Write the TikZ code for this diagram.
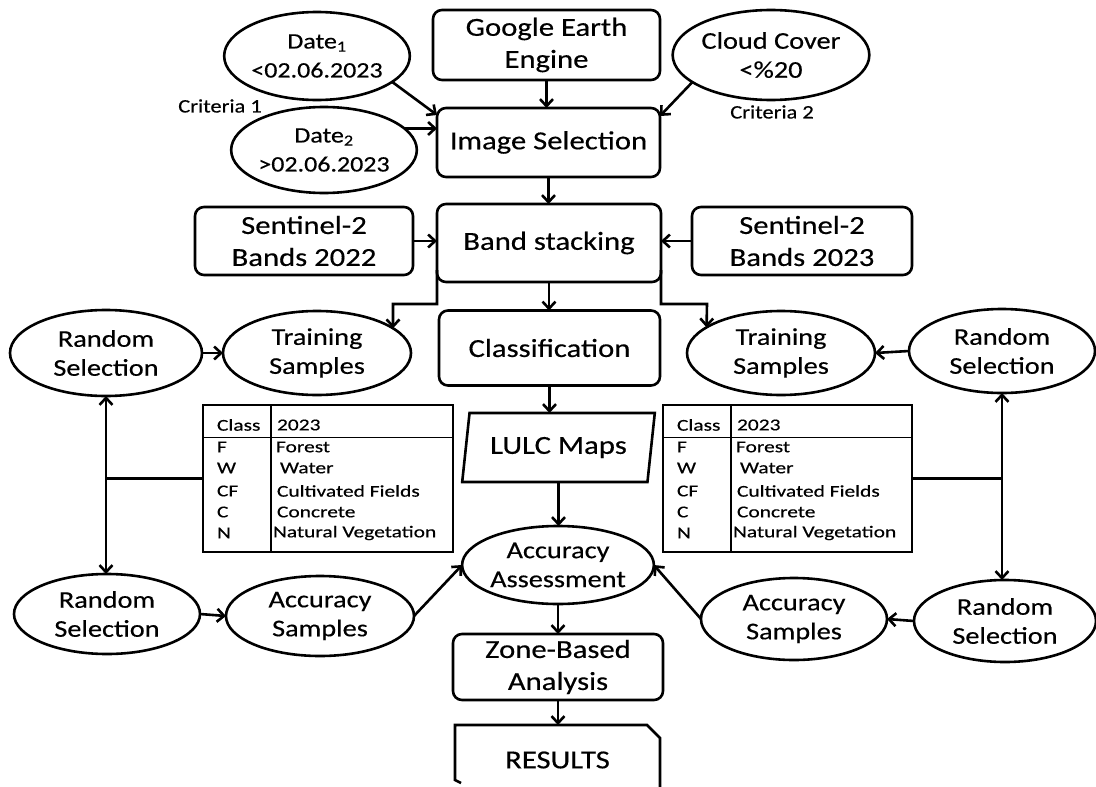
\documentclass[tikz,border=0pt]{standalone}
\usepackage{fontspec}
\setmainfont{Carlito}[FakeStretch=1.18,FakeBold=0.4]
\newfontfamily\tabfont{Carlito}[FakeStretch=1.3,FakeBold=0.4]
\usetikzlibrary{shapes.geometric,arrows.meta}

\newcommand\classtable[3]{%
 \begin{scope}[shift={#2}]
  \node[draw, line width=2.6pt, minimum width=#3, minimum height=147, anchor=north west] (#1) at (0,0) {};
  \draw[line width=1.6pt] (68,0) -- (68,147);
  \draw[line width=1pt] (0,32) -- (#3,32);
  \node[tab] (#1h1) at (14,20) {Class};
  \node[tab] (#1h2) at (74,20) {2023};
  \node[tab] (#1a1) at (14,42) {F};
  \node[tab] (#1a2) at (73,42) {Forest};
  \node[tab] (#1b1) at (14,63) {W};
  \node[tab] (#1b2) at (77,63) {Water};
  \node[tab] (#1c1) at (14,86) {CF};
  \node[tab] (#1c2) at (74,86) {Cultivated Fields};
  \node[tab] (#1d1) at (14,107) {C};
  \node[tab] (#1d2) at (74,107) {Concrete};
  \node[tab] (#1e1) at (14,128) {N};
  \node[tab] (#1e2) at (70,128) {Natural Vegetation};
 \end{scope}}

\begin{document}
\begin{tikzpicture}[x=1pt,y=-1pt,
 line width=2.6pt,
 every node/.style={inner sep=0pt, outer sep=0pt},
 box/.style={draw, rounded corners=9pt, align=center, font=\fontsize{26}{32}\selectfont},
 oval/.style={draw, ellipse, align=center, font=\fontsize{24}{29}\selectfont},
 dateoval/.style={oval, font=\fontsize{22}{29}\selectfont},
 arr/.style={-{Straight Barb[length=7pt,width=13pt]}},
 darr/.style={{Straight Barb[length=7pt,width=13pt]}-{Straight Barb[length=7pt,width=13pt]}},
 crit/.style={font=\fontsize{19}{22}\selectfont},
 tab/.style={font=\tabfont\fontsize{16.5}{18}\selectfont, anchor=west},
]
\useasboundingbox (0,0) rectangle (1096,787);
\fill[white] (0,0) rectangle (1096,787);

% top row
\node[box, minimum width=227, minimum height=70] (GEE) at (546.5,45) {Google Earth\\Engine};
\node[box, minimum width=223, minimum height=69] (ImgSel) at (548.5,142.5) {Image Selection};
\node[dateoval, minimum width=155, minimum height=88] (Date1) at (317,56) {Date\textsubscript{1}\\<02.06.2023};
\node[dateoval, minimum width=158, minimum height=86] (Date2) at (324,150) {Date\textsubscript{2}\\>02.06.2023};
\node[oval, minimum width=164, minimum height=90] (Cloud) at (771,55) {Cloud Cover\\<\%20};
\node[crit] (Crit1) at (220,106) {Criteria 1};
\node[crit] (Crit2) at (772,112) {Criteria 2};

% band stacking row
\node[box, minimum width=224, minimum height=78] (Band) at (549,243) {Band stacking};
\node[box, minimum width=218, minimum height=68] (S22) at (304,241) {Sentinel-2\\Bands 2022};
\node[box, minimum width=220, minimum height=68] (S23) at (802,241) {Sentinel-2\\Bands 2023};

% classification row
\node[box, minimum width=221, minimum height=75] (Class) at (549.5,348) {Classification};
\node[oval, minimum width=188, minimum height=84] (TrainL) at (317,353) {Training\\Samples};
\node[oval, minimum width=192, minimum height=86] (RSL1) at (106,353) {Random\\Selection};
\node[oval, minimum width=188, minimum height=84] (TrainR) at (781,353) {Training\\Samples};
\node[oval, minimum width=186, minimum height=84] (RSR1) at (1002,351) {Random\\Selection};

% LULC maps
\node[draw, trapezium, trapezium left angle=75, trapezium right angle=105, trapezium stretches=true,
      minimum width=193, minimum height=69, font=\fontsize{26}{32}\selectfont] (LULC) at (558.5,447.5) {LULC Maps};

% tables
\classtable{tabL}{(203,405)}{250}
\classtable{tabR}{(663,405)}{249}

% accuracy row
\node[oval, minimum width=190, minimum height=78] (AA) at (558,565) {Accuracy\\Assessment};
\node[oval, minimum width=186, minimum height=80] (RSL2) at (107,614) {Random\\Selection};
\node[oval, minimum width=188, minimum height=80] (ASL) at (320,616) {Accuracy\\Samples};
\node[oval, minimum width=186, minimum height=82] (ASR) at (794,619) {Accuracy\\Samples};
\node[oval, minimum width=182, minimum height=82] (RSR2) at (1005,621) {Random\\Selection};

% bottom
\node[box, minimum width=210, minimum height=66] (ZBA) at (558,667) {Zone-Based\\Analysis};
\node[minimum width=205, minimum height=70, font=\fontsize{26}{32}\selectfont] (Res) at (557.5,760) {RESULTS};
\draw (Res.south west) ++(6,-12) -- (455,780) -- (455,725) -- (647,725) -- (660,738) -- (660,800);

% connectors
\draw[arr] (GEE.south) -- (GEE.south |- ImgSel.north);
\draw[arr] (Date1.-19) -- ([yshift=-7pt]ImgSel.north west);
\draw[arr] (Date2.15) -- (Date2.15 -| ImgSel.west);
\draw[arr] (Cloud.199) -- ([yshift=-8pt]ImgSel.north east);
\draw[arr] (ImgSel.south) -- (ImgSel.south |- Band.north);
\draw[arr] (S22.east) -- (S22.east -| Band.west);
\draw[arr] (S23.west) -- (S23.west -| Band.east);
\draw[arr] (Band.south) -- (Band.south |- Class.north);
\coordinate (eL) at (393,304);
\coordinate (eR) at (707,304);
\draw[arr] ([yshift=12pt]Band.south west) |- (eL) -- (TrainL.18);
\draw[arr] ([yshift=12pt]Band.south east) |- (eR) -- (TrainR.161);
\draw[arr] (RSL1.east) -- (TrainL.west);
\draw[arr] (RSR1.west) -- (TrainR.east);
\draw[arr] (Class.south) -- (Class.south |- LULC.north);
\draw[arr] (LULC.south) -- (LULC.south |- AA.north);
\draw[darr] (RSL1.south) -- (RSL1.south |- RSL2.north);
\draw[darr] (RSR1.south) -- (RSR1.south |- RSR2.north);
\draw (tabL.west) -- (tabL.west -| RSL1.south);
\draw (tabR.east) -- (tabR.east -| RSR1.south);
\draw[arr] (RSL2.east) -- (ASL.west);
\draw[arr] (RSR2.west) -- (ASR.east);
\draw[arr] (ASL.east) -- (AA.west);
\draw[arr] (ASR.west) -- (AA.east);
\draw[arr] (AA.south) -- (AA.south |- ZBA.north);
\draw[arr] (ZBA.south) -- (ZBA.south |- Res.north);
\end{tikzpicture}
\end{document}
